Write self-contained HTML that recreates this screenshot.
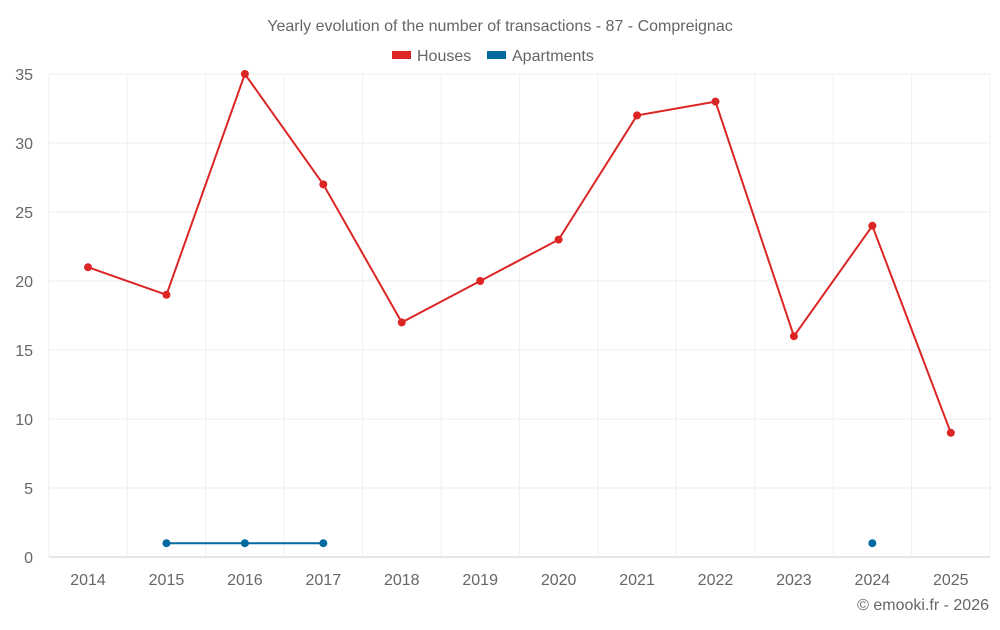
<!DOCTYPE html>
<html><head><meta charset="utf-8"><style>
body{margin:0;background:#fff;font-family:"Liberation Sans",sans-serif;}
svg text{font-family:"Liberation Sans",sans-serif;fill:#666;}
</style></head><body>
<svg id="chart" width="1000" height="625" xmlns="http://www.w3.org/2000/svg">
<text x="500" y="31" text-anchor="middle" font-size="16">Yearly evolution of the number of transactions - 87 - Compreignac</text>
<g>
<rect x="392" y="51" width="19" height="8" fill="#dc2626"/>
<text x="417" y="61" font-size="16">Houses</text>
<rect x="487" y="51" width="19" height="8" fill="#0369a1"/>
<text x="512" y="61" font-size="16">Apartments</text>
</g>
<g id="grid"></g><g id="axes"></g><g id="series"></g>
<text x="989" y="610" text-anchor="end" font-size="16">© emooki.fr - 2026</text>
</svg>
<script>
const categories=["2014","2015","2016","2017","2018","2019","2020","2021","2022","2023","2024","2025"];
const houses=[21,19,35,27,17,20,23,32,33,16,24,9];
const apartments=[null,1,1,1,null,null,null,null,null,null,1,null];
const yTicks=[0,5,10,15,20,25,30,35];
const NS="http://www.w3.org/2000/svg";
const plotL=48.8,plotR=990,plotT=74,plotB=557,yMax=35;
const band=(plotR-plotL)/categories.length;
const xs=i=>plotL+band*(i+0.5);
const ys=v=>plotB-(v/yMax)*(plotB-plotT);
function mk(tag,attrs,parent){const e=document.createElementNS(NS,tag);for(const k in attrs)e.setAttribute(k,attrs[k]);parent.appendChild(e);return e;}
const grid=document.getElementById('grid'),axes=document.getElementById('axes'),series=document.getElementById('series');
yTicks.forEach(t=>{
 const l=mk('line',{x1:plotL,x2:plotR,y1:ys(t),y2:ys(t),stroke:t===0?'#ccc':'#ececec','stroke-width':1},grid);
 
 
 const tx=mk('text',{x:33,y:ys(t)+6,'text-anchor':'end','font-size':16},axes);
 tx.textContent=t;
 
 
});
for(let i=0;i<=categories.length;i++){
 const l=mk('line',{x1:plotL+band*i,x2:plotL+band*i,y1:plotT,y2:plotB,stroke:'#f0f0f0','stroke-width':1},grid);
 
 
}
categories.forEach((c,i)=>{
 const tx=mk('text',{x:xs(i),y:585,'text-anchor':'middle','font-size':16},axes);
 tx.textContent=c;
 
 
});
function draw(data,color,name){
 let segs=[],cur=[];
 data.forEach((v,i)=>{if(v==null){if(cur.length)segs.push(cur);cur=[];}else cur.push([xs(i),ys(v)]);});
 if(cur.length)segs.push(cur);
 segs.forEach(s=>{if(s.length>1){
  const p=mk('polyline',{points:s.map(q=>q.join(',')).join(' '),fill:'none',stroke:color,'stroke-width':2},series);
  
  
 }});
 data.forEach((v,i)=>{if(v==null)return;
  const c=mk('circle',{cx:xs(i),cy:ys(v),r:4,fill:color},series);
  
  
 });
}
draw(houses,'#dc2626','houses');
draw(apartments,'#0369a1','apartments');
</script>
</body></html>
